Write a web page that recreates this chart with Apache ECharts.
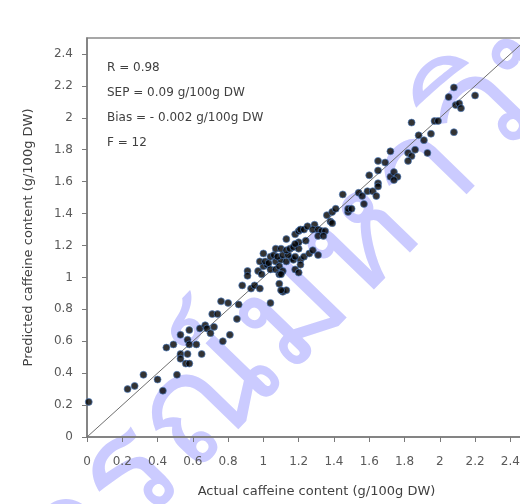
<!DOCTYPE html>
<html>
<head>
<meta charset="utf-8">
<script src="https://cdn.jsdelivr.net/npm/echarts@6/dist/echarts.min.js"></script>
<style>
  html, body { margin: 0; padding: 0; background: #fff; }
  #chart { width: 520px; height: 504px; }
</style>
</head>
<body>
<div id="chart"></div>
<script>
// actual vs predicted caffeine (g/100g DW)
const actual = [
  0.01, 0.23, 0.27, 0.32, 0.40, 0.43, 0.45, 0.49, 0.51, 0.53, 0.53, 0.53, 0.56, 0.58, 0.57, 0.57, 0.58, 0.58, 0.62, 0.65,
  0.64, 0.67, 0.68, 0.70, 0.72, 0.71, 0.74, 0.76, 0.80, 0.77, 0.81, 0.85, 0.86, 0.88, 0.93, 0.95, 0.98, 1.04, 1.09, 1.11,
  1.13, 1.10, 0.91, 0.91, 0.97, 0.99, 1.00, 1.02, 0.98, 1.01, 1.03, 1.07, 1.10, 1.13, 1.16, 1.17, 1.21, 1.00, 1.04, 1.06,
  1.08, 1.11, 1.14, 1.18, 1.23, 1.26, 1.28, 1.31, 1.07, 1.10, 1.13, 1.15, 1.17, 1.20, 1.04, 1.07, 1.09, 1.11, 1.18, 1.21,
  1.20, 1.09, 1.10, 1.13, 1.24, 1.20, 1.18, 1.18, 1.20, 1.21, 1.23, 1.25, 1.29, 1.28, 1.31, 1.33, 1.35, 1.31, 1.34, 1.38,
  1.39, 1.36, 1.39, 1.41, 1.48, 1.48, 1.50, 1.45, 1.54, 1.56, 1.59, 1.62, 1.64, 1.57, 1.60, 1.65, 1.65, 1.65, 1.65, 1.69,
  1.72, 1.72, 1.74, 1.76, 1.74, 1.82, 1.84, 1.82, 1.86, 1.93, 1.88, 1.91, 1.95, 1.84, 1.97, 1.99, 2.08, 2.05, 2.08, 2.09,
  2.11, 2.12, 2.20
];
const predicted = [
  0.22, 0.30, 0.32, 0.39, 0.36, 0.29, 0.56, 0.58, 0.39, 0.64, 0.52, 0.49, 0.46, 0.46, 0.52, 0.61, 0.58, 0.67, 0.58, 0.52,
  0.68, 0.70, 0.68, 0.65, 0.69, 0.77, 0.77, 0.85, 0.84, 0.60, 0.64, 0.74, 0.83, 0.95, 0.93, 0.95, 0.93, 0.84, 0.96, 0.91,
  0.92, 0.92, 1.04, 1.01, 1.04, 1.02, 1.07, 1.08, 1.10, 1.10, 1.09, 1.10, 1.11, 1.10, 1.12, 1.11, 1.11, 1.15, 1.13, 1.14,
  1.13, 1.14, 1.14, 1.13, 1.13, 1.15, 1.17, 1.14, 1.18, 1.18, 1.17, 1.18, 1.19, 1.18, 1.05, 1.05, 1.07, 1.04, 1.05, 1.08,
  1.03, 1.02, 1.02, 1.24, 1.23, 1.22, 1.21, 1.27, 1.29, 1.30, 1.30, 1.32, 1.33, 1.30, 1.30, 1.29, 1.29, 1.26, 1.26, 1.35,
  1.34, 1.39, 1.41, 1.43, 1.41, 1.43, 1.43, 1.52, 1.53, 1.51, 1.54, 1.54, 1.51, 1.46, 1.64, 1.59, 1.57, 1.67, 1.73, 1.72,
  1.79, 1.63, 1.66, 1.63, 1.61, 1.78, 1.76, 1.73, 1.80, 1.78, 1.89, 1.86, 1.90, 1.97, 1.98, 1.98, 1.91, 2.13, 2.19, 2.08,
  2.09, 2.06, 2.14
];
const refLine = [0, 2.5];              // 1:1 line, both axes
const axisTicks = [0, 2.5, 0.2];       // min, max, interval
const statLines = [
  'R = 0.98',
  'SEP = 0.09 g/100g DW',
  'Bias = - 0.002 g/100g DW',
  'F = 12'
];
const xTitle = 'Actual caffeine content (g/100g DW)';
const yTitle = 'Predicted caffeine content (g/100g DW)';
const watermark = 'จุฬาลงกรณ์มหาวิทยาลัย';

const chart = echarts.init(document.getElementById('chart'));

const points = actual.map((a, i) => [a, predicted[i]]);
const font = '"DejaVu Sans", Verdana, sans-serif';
const axisColor = '#7a7a7a';

const baseAxis = {
  type: 'value',
  min: axisTicks[0],
  max: axisTicks[1],
  interval: axisTicks[2],
  nameLocation: 'middle',
  splitLine: { show: false },
  axisLine: { lineStyle: { color: axisColor, width: 1.5 } },
  axisTick: { length: 5, lineStyle: { color: axisColor, width: 1 } },
  axisLabel: {
    showMaxLabel: false,
    color: '#595959',
    fontFamily: font,
    fontSize: 12
  },
  nameTextStyle: { color: '#404040', fontFamily: font, fontSize: 13 }
};

const option = {
  backgroundColor: '#fff',
  animation: false,
  grid: {
    left: 87, top: 38, right: -8, bottom: 67,
    show: true, borderColor: '#8a8a8a', borderWidth: 1.5,
    outerBoundsMode: 'none'
  },
  xAxis: Object.assign({}, baseAxis, {
    name: xTitle,
    nameGap: 48,
    nameTextStyle: Object.assign({}, baseAxis.nameTextStyle, { padding: [0, 0, 0, 18] }),
    axisLabel: Object.assign({}, baseAxis.axisLabel, { margin: 19 })
  }),
  yAxis: Object.assign({}, baseAxis, {
    name: yTitle,
    nameGap: 52,
    axisLabel: Object.assign({}, baseAxis.axisLabel, { margin: 14 })
  }),
  graphic: [
    {
      type: 'text',
      x: 280, y: 325,
      rotation: 0.8,
      z: -1,
      silent: true,
      style: {
        text: watermark,
        font: '150px "Noto Sans", "DejaVu Sans", sans-serif',
        fill: '#cbcbff',
        align: 'center',
        verticalAlign: 'middle'
      }
    },
    {
      type: 'text',
      left: 107, top: 56,
      style: {
        text: statLines.join('\n'),
        font: '12px ' + font,
        lineHeight: 24.7,
        fill: '#404040'
      }
    }
  ],
  series: [
    {
      type: 'line',
      data: [[refLine[0], refLine[0]], [refLine[1], refLine[1]]],
      symbol: 'none',
      silent: true,
      lineStyle: { color: '#6e6e6e', width: 1 },
      z: 1
    },
    {
      type: 'scatter',
      data: points,
      symbolSize: 7,
      itemStyle: { color: '#000', borderColor: '#4f7fc4', borderWidth: 0.8 },
      z: 3
    }
  ]
};

chart.setOption(option);
</script>
</body>
</html>
